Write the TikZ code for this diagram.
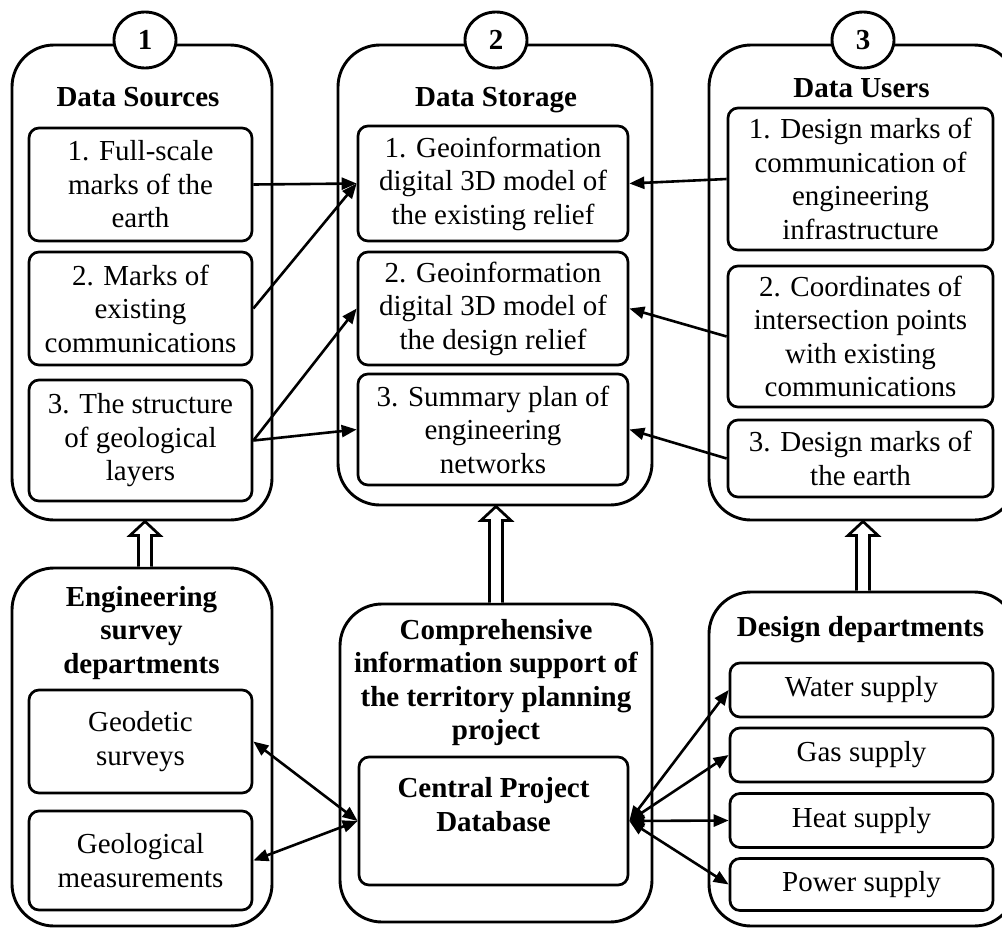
\documentclass[tikz,border=0pt]{standalone}
\usepackage{fontspec}
\setmainfont{Liberation Serif}
\usetikzlibrary{arrows.meta,calc,shapes.geometric}

\tikzset{
  every node/.style={font=\fontsize{29}{33.5}\selectfont},
  panel/.style={draw, line width=2.9pt, rounded corners=42pt, inner sep=0pt},
  item/.style={draw, line width=2.7pt, rounded corners=10pt, align=center,
    inner sep=0pt, fill=white},
  heading/.style={font=\fontsize{29}{33.5}\selectfont\bfseries, align=center,
    inner sep=0pt},
  badge/.style={draw, ellipse, line width=2.9pt, fill=white, minimum width=62pt,
    minimum height=56pt, inner sep=0pt, font=\fontsize{29}{33.5}\selectfont\bfseries},
  link/.style={line width=2.6pt, -{Triangle[length=15pt,width=12pt]}},
  both/.style={line width=2.6pt,
    {Triangle[length=15pt,width=12pt]}-{Triangle[length=15pt,width=12pt]}},
  fat/.style={line width=2.7pt, fill=white, line join=miter},
}

% hollow upward block arrow: #1 gives the x position, from the top of #2 to the bottom of #3
\newcommand\fatup[3]{%
  \draw[fat] let \p0=(#1), \p1=(#2.north), \p2=(#3.south) in
    (\x0-6.5pt,\y1) -- (\x0-6.5pt,\y2-14pt) -- (\x0-15pt,\y2-14pt) -- (\x0,\y2)
    -- (\x0+15pt,\y2-14pt) -- (\x0+6.5pt,\y2-14pt) -- (\x0+6.5pt,\y1);}

\begin{document}
\begin{tikzpicture}[x=1pt,y=-1pt]
\useasboundingbox (0,0) rectangle (1002,929);
\fill[white] (0,0) rectangle (1002,929);
\clip (0,0) rectangle (1002,929);

% outer panels
\node[panel, minimum width=260pt, minimum height=475pt] (src) at (142,282.5) {};
\node[panel, minimum width=314pt, minimum height=460pt] (sto) at (495,275) {};
\node[panel, minimum width=307pt, minimum height=475pt] (usr) at (862.5,282.5) {};
\node[panel, minimum width=260pt, minimum height=358pt] (eng) at (142,747) {};
\node[panel, minimum width=312pt, minimum height=318pt] (cip) at (496,763) {};
\node[panel, minimum width=307pt, minimum height=334pt] (dep) at (862.5,759) {};

% panel numbers
\node[badge] (c1) at (145,40) {1};
\node[badge] (c2) at (496,40) {2};
\node[badge] (c3) at (863,40) {3};

% headings
\node[heading, anchor=base] (hsrc) at (138,106) {Data Sources};
\node[heading, anchor=base] (hsto) at (496,106) {Data Storage};
\node[heading, anchor=base] (husr) at (861.5,97) {Data Users};
\node[heading] (heng) at (141.5,633) {Engineering\\survey\\departments};
\node[heading] (hcip) at (496,682.5) {Comprehensive\\information support of\\the territory planning\\project};
\node[heading, anchor=base] (hdep) at (860.5,636) {Design departments};

% data sources
\node[item, minimum width=223pt, minimum height=113pt] (s1) at (140.5,184.5) {1. Full-scale\\marks of the\\earth};
\node[item, minimum width=223pt, minimum height=113pt] (s2) at (140.5,308.5) {2. Marks of\\existing\\communications};
\node[item, minimum width=223pt, minimum height=121pt] (s3) at (140.5,440.5) {3. The structure\\of geological\\layers};

% data storage
\node[item, minimum width=270pt, minimum height=115pt] (d1) at (493,183.5) {1. Geoinformation\\digital 3D model of\\the existing relief};
\node[item, minimum width=270pt, minimum height=113pt] (d2) at (493,308.5) {2. Geoinformation\\digital 3D model of\\the design relief};
\node[item, minimum width=270pt, minimum height=111pt] (d3) at (493,429.5) {3. Summary plan of\\engineering\\networks};

% data users
\node[item, minimum width=265pt, minimum height=142pt] (u1) at (860.5,179) {1. Design marks of\\communication of\\engineering\\infrastructure};
\node[item, minimum width=265pt, minimum height=141pt] (u2) at (860.5,336.5) {2. Coordinates of\\intersection points\\with existing\\communications};
\node[item, minimum width=265pt, minimum height=77pt] (u3) at (860.5,458.5) {3. Design marks of\\the earth};

% survey departments
\node[item, minimum width=223pt, minimum height=103pt] (g1) at (140.5,741.5) {Geodetic\\surveys};
\node[item, minimum width=223pt, minimum height=99pt] (g2) at (140.5,860.5) {Geological\\measurements};

% central database
\node[item, font=\fontsize{29}{33.5}\selectfont\bfseries, minimum width=269pt, minimum height=128pt] (cpd) at (493.5,821) {Central Project\\Database\\\mbox{}};

% design departments
\node[item, minimum width=263pt, minimum height=54pt] (w1) at (861.5,690) {Water supply};
\node[item, minimum width=263pt, minimum height=54pt] (w2) at (861.5,755) {Gas supply};
\node[item, minimum width=263pt, minimum height=54pt] (w3) at (861.5,820.5) {Heat supply};
\node[item, minimum width=263pt, minimum height=52pt] (w4) at (861.5,884.5) {Power supply};

% block arrows between the two rows
\fatup{c1}{eng}{src}
\fatup{c2}{cip}{sto}
\fatup{c3}{dep}{usr}

% data flows into storage
\draw[link] (s1.east) -- (d1.west);
\draw[link] (s2.east) -- (d1.west);
\draw[link] (s3.east) -- (d2.west);
\draw[link] (s3.east) -- (d3.west);
\draw[link] (u1.west) -- (d1.east);
\draw[link] (u2.west) -- (d2.east);
\draw[link] (u3.west) -- (d3.east);

% exchange with the central database
\draw[both] (g1.east) -- (cpd.west);
\draw[both] (g2.east) -- (cpd.west);
\draw[both] (cpd.east) -- (w1.west);
\draw[both] (cpd.east) -- (w2.west);
\draw[both] (cpd.east) -- (w3.west);
\draw[both] (cpd.east) -- (w4.west);
\end{tikzpicture}
\end{document}
